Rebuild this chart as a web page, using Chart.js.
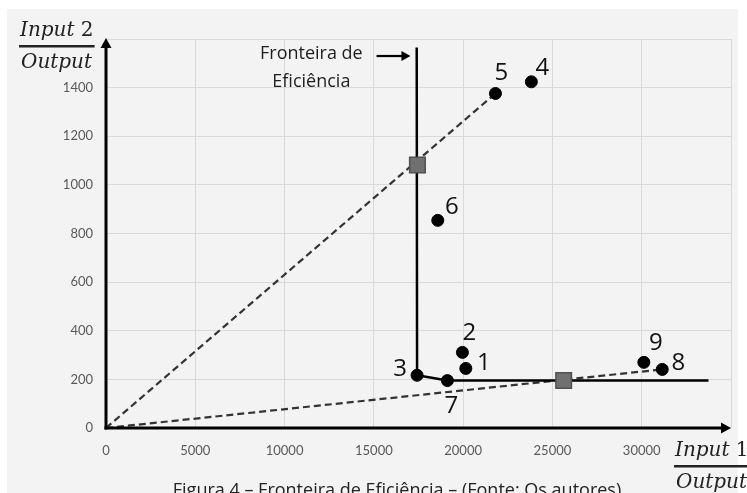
<!DOCTYPE html>
<html>
<head>
<meta charset="utf-8">
<script src="https://cdn.jsdelivr.net/npm/chart.js@4"></script>
<style>
html,body{margin:0;padding:0;background:#fff;}
#wrap{width:747px;height:493px;position:relative;}
</style>
</head>
<body>
<div id="wrap"><canvas id="c" width="747" height="493"></canvas></div>
<script>
// ---- data ----
const dmuLabels = ['1','2','3','4','5','6','7','8','9'];
const dmuX = [20150, 19960, 17420, 23820, 21810, 18580, 19120, 31150, 30120];
const dmuY = [245, 311, 217, 1424, 1376, 854, 195, 241, 270];
const frontierX = [17400, 17420, 19120, 33740];
const frontierY = [1565, 217, 195, 195];
const projX = [17440, 25630];
const projY = [1082, 195];
const ray1X = [0, 21810];
const ray1Y = [0, 1376];
const ray2X = [0, 31150];
const ray2Y = [0, 241];
const xTicks = [0, 5000, 10000, 15000, 20000, 25000, 30000];
const yTicks = [0, 200, 400, 600, 800, 1000, 1200, 1400];

// label offsets (px) for point numbers
const labelDX = [18, 7, -17, 11, 6, 14, 4, 16, 12];
const labelDY = [-5, -19, -6, -14, -20, -13, 26, -6, -19];

const pts = (xs, ys) => xs.map((x, i) => ({x: x, y: ys[i]}));

const bgPlugin = {
  id: 'bg',
  beforeDraw(chart) {
    const ctx = chart.ctx;
    ctx.save();
    ctx.fillStyle = '#ffffff';
    ctx.fillRect(0, 0, chart.width, chart.height);
    ctx.fillStyle = '#f3f3f3';
    ctx.fillRect(7, 9, 731, chart.height - 9);
    ctx.restore();
  }
};

function arrow(ctx, x1, y1, x2, y2, w, head) {
  const a = Math.atan2(y2 - y1, x2 - x1);
  ctx.beginPath();
  ctx.lineWidth = w;
  ctx.moveTo(x1, y1);
  ctx.lineTo(x2 - Math.cos(a) * head * 0.8, y2 - Math.sin(a) * head * 0.8);
  ctx.stroke();
  ctx.beginPath();
  ctx.moveTo(x2, y2);
  ctx.lineTo(x2 - Math.cos(a) * head - Math.sin(a) * head * 0.55, y2 - Math.sin(a) * head + Math.cos(a) * head * 0.55);
  ctx.lineTo(x2 - Math.cos(a) * head + Math.sin(a) * head * 0.55, y2 - Math.sin(a) * head - Math.cos(a) * head * 0.55);
  ctx.closePath();
  ctx.fill();
}

const axesPlugin = {
  id: 'axesArrows',
  afterDatasetsDraw(chart) {
    const ctx = chart.ctx;
    const xs = chart.scales.x, ys = chart.scales.y;
    const x0 = xs.getPixelForValue(0), y0 = ys.getPixelForValue(0);
    ctx.save();
    ctx.strokeStyle = '#000';
    ctx.fillStyle = '#000';
    arrow(ctx, x0, y0 + 1.5, x0, ys.getPixelForValue(1600) - 1, 3, 10);
    arrow(ctx, x0 - 1.5, y0, xs.getPixelForValue(35000), y0, 3, 10);

    // frontier annotation arrow
    const ay = ys.getPixelForValue(1530);
    arrow(ctx, xs.getPixelForValue(15150), ay, xs.getPixelForValue(17050), ay, 2.2, 9);
    ctx.fillStyle = '#1e1e1e';
    ctx.font = '18px "Open Sans"';
    ctx.textAlign = 'center';
    ctx.textBaseline = 'middle';
    const tx = xs.getPixelForValue(11500);
    ctx.fillText('Fronteira de', tx, ys.getPixelForValue(1537));
    ctx.fillText('Eficiência', tx, ys.getPixelForValue(1425));

    // point number labels
    ctx.fillStyle = '#111';
    ctx.font = '24px "Open Sans"';
    dmuLabels.forEach((l, i) => {
      ctx.fillText(l, xs.getPixelForValue(dmuX[i]) + labelDX[i], ys.getPixelForValue(dmuY[i]) + labelDY[i]);
    });

    // axis titles (fractions)
    ctx.fillStyle = '#222';
    ctx.textAlign = 'left';
    ctx.textBaseline = 'alphabetic';
    function frac(xl, ybase, num, digit) {
      ctx.font = 'italic 20px "DejaVu Serif"';
      ctx.fillText(num, xl, ybase);
      const w = ctx.measureText(num).width;
      ctx.font = '20px "DejaVu Serif"';
      ctx.fillText(digit, xl + w, ybase);
      const tw = w + ctx.measureText(digit).width;
      ctx.fillRect(xl - 1, ybase + 9, tw + 2, 2.5);
      ctx.font = 'italic 20px "DejaVu Serif"';
      ctx.fillText('Output', xl + 1, ybase + 32);
    }
    frac(20, 36, 'Input ', '2');
    frac(675, 456, 'Input ', '1');

    // caption
    ctx.fillStyle = '#222';
    ctx.font = '18px "Open Sans"';
    ctx.textAlign = 'center';
    ctx.fillText('Figura 4 – Fronteira de Eficiência – (Fonte: Os autores)', 397, 496);
    ctx.restore();
  }
};

new Chart(document.getElementById('c'), {
  type: 'scatter',
  data: {
    datasets: [
      { label: 'DMUs', data: pts(dmuX, dmuY), pointRadius: 6, pointHoverRadius: 6,
        backgroundColor: '#000', borderColor: '#000', order: 0 },
      { label: 'Projeções', data: pts(projX, projY), pointStyle: 'rect', pointRadius: 11, pointHoverRadius: 11,
        backgroundColor: '#707070', borderColor: '#505050', borderWidth: 1.5, order: 1 },
      { label: 'Fronteira', data: pts(frontierX, frontierY), showLine: true, pointRadius: 0,
        borderColor: '#000', borderWidth: 2.5, order: 2 },
      { label: 'Raio 1', data: pts(ray1X, ray1Y), showLine: true, pointRadius: 0,
        borderColor: '#333', borderWidth: 2.2, borderDash: [7, 4], order: 3 },
      { label: 'Raio 2', data: pts(ray2X, ray2Y), showLine: true, pointRadius: 0,
        borderColor: '#333', borderWidth: 2.2, borderDash: [7, 4], order: 4 }
    ]
  },
  options: {
    responsive: false,
    animation: false,
    events: [],
    layout: { padding: { left: 7, top: 39, right: 16, bottom: 0 } },
    plugins: { legend: { display: false }, tooltip: { enabled: false } },
    scales: {
      x: {
        type: 'linear', min: 0, max: 35000,
        afterFit(s) { s.height = 65; },
        afterBuildTicks(s) { s.ticks = xTicks.concat([35000]).map(v => ({value: v})); },
        grid: { color: '#d9d9d9', lineWidth: 1, drawTicks: false },
        border: { display: false },
        ticks: { padding: 15, color: '#595959', font: { family: 'Lato', size: 13 },
          maxRotation: 0, autoSkip: false,
          callback: v => xTicks.includes(v) ? String(v) : '' }
      },
      y: {
        type: 'linear', min: 0, max: 1600,
        afterFit(s) { s.width = 99; },
        afterBuildTicks(s) { s.ticks = yTicks.concat([1600]).map(v => ({value: v})); },
        grid: { color: '#d9d9d9', lineWidth: 1, drawTicks: false },
        border: { display: false },
        ticks: { padding: 13, color: '#595959', font: { family: 'Lato', size: 13 },
          autoSkip: false,
          callback: v => yTicks.includes(v) ? String(v) : '' }
      }
    }
  },
  plugins: [bgPlugin, axesPlugin]
});
</script>
</body>
</html>
